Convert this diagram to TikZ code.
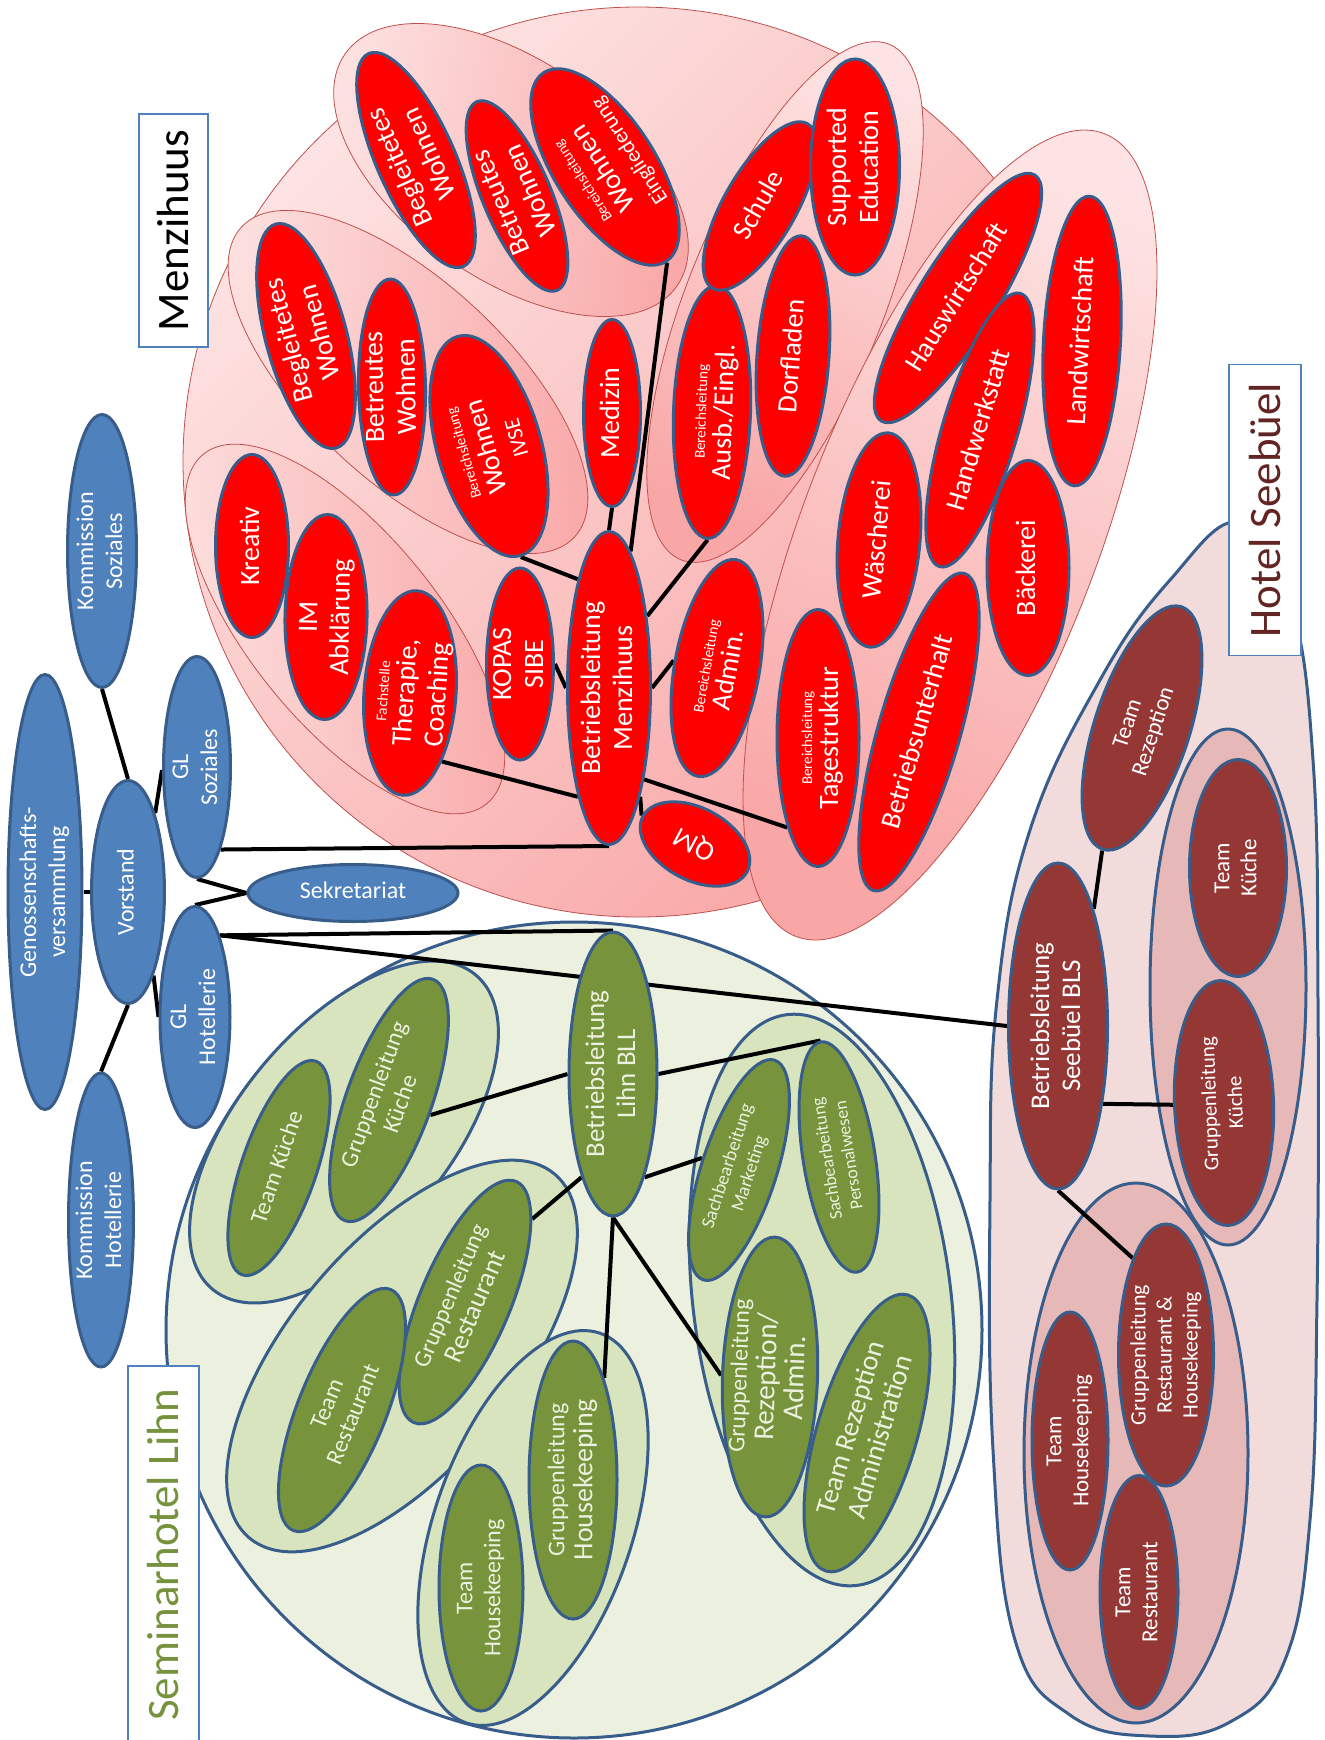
\documentclass[tikz,border=0pt]{standalone}
\usepackage{fontspec}
\setmainfont{Carlito}
\usetikzlibrary{shapes.geometric}
\pgfdeclarelayer{bg}
\pgfdeclarelayer{lines}
\pgfsetlayers{bg,lines,main}
\definecolor{orgBlue}{HTML}{4F81BD}
\definecolor{orgLine}{HTML}{385D8A}
\definecolor{menzRed}{HTML}{FF0000}
\definecolor{lihnGreen}{HTML}{77933C}
\definecolor{seeRed}{HTML}{953735}
\definecolor{menzLight}{HTML}{FDE3E3}
\definecolor{menzDark}{HTML}{F9A6A6}
\definecolor{menzEdge}{HTML}{C0504D}
\definecolor{lihnBg}{HTML}{EBF1DE}
\definecolor{lihnGrp}{HTML}{D7E4BD}
\definecolor{seeBg}{HTML}{F2DCDB}
\definecolor{seeGrp}{HTML}{E6B9B8}
\definecolor{seeText}{HTML}{632523}
\definecolor{lihnText}{HTML}{76923C}
\newcommand{\fsz}[2]{\fontsize{#1}{#2}\selectfont}
\newcommand{\tx}[1]{\smash{\raisebox{-.25em}{\begin{tabular}{@{}c@{}}#1\end{tabular}}}}
\newcommand{\sm}[1]{{\fsz{15}{16}#1}}
\tikzset{
  sz/.style 2 args={minimum width=#1pt, minimum height=#2pt},
  orgnode/.style={ellipse, draw=orgLine, line width=3pt, inner sep=0pt, text=white},
  blue node/.style={orgnode, fill=orgBlue, font=\fsz{24}{29}},
  menz node/.style={orgnode, fill=menzRed, font=\fsz{28}{32}},
  lihn node/.style={orgnode, fill=lihnGreen, text=lihnBg, font=\fsz{24}{28}},
  see node/.style={orgnode, fill=seeRed, font=\fsz{23}{27}},
  menz group/.style={ellipse, draw=menzEdge, line width=.8pt, top color=menzLight, bottom color=menzDark},
  lihn group/.style={ellipse, draw=orgLine, line width=3pt, fill=lihnGrp},
  see group/.style={ellipse, draw=orgLine, line width=3pt, fill=seeGrp},
  conn/.style={line width=4pt},
  site label/.style={draw=orgBlue, line width=1.5pt, fill=white, rotate=90, inner sep=0pt, font=\fsz{45}{50}}
}
\begin{document}
\begin{tikzpicture}[x=1pt, y=-1pt]
\useasboundingbox (0,0) rectangle (1325,1740);

\begin{pgfonlayer}{bg}
% Menzihuus
\node[menz group, minimum size=910pt, shading angle=45] (menzArea) at (638,462) {};
\node[menz group, sz={450}{190}, rotate=-51, shading angle=96] (gA) at (345,629) {};
\node[menz group, sz={455}{200}, rotate=-43, shading angle=88] (gW2) at (408,382) {};
\node[menz group, sz={405}{218}, rotate=-35, shading angle=80] (gW1) at (511,170) {};
\node[menz group, sz={556}{196}, rotate=68, shading angle=-23] (gSchule) at (785,302) {};
\node[menz group, sz={860}{296}, rotate=69, shading angle=-24] (gBetrieb) at (950,535) {};
% Seminarhotel Lihn
\node[circle, draw=orgLine, line width=3pt, fill=lihnBg, minimum size=816pt] (lihnArea) at (574,1330) {};
\node[lihn group, sz={410}{210}, rotate=50] (gKueche) at (344,1132) {};
\node[lihn group, sz={475}{225}, rotate=50] (gRest) at (402,1356) {};
\node[lihn group, sz={412}{198}, rotate=71] (gHouse) at (533,1528) {};
\node[lihn group, sz={575}{258}, rotate=97] (gRezep) at (822,1300) {};
% Hotel Seebuel
\draw[draw=orgLine, line width=3pt, fill=seeBg] plot[smooth cycle, tension=.7] coordinates {
  (1240,522) (1290,600) (1313,760) (1318,1000) (1317,1300) (1310,1520) (1285,1660)
  (1230,1722) (1150,1736) (1070,1715) (1015,1640) (993,1450) (990,1200) (997,1000)
  (1030,830) (1100,680) (1170,580)};
\node[see group, sz={516}{156}, rotate=90] (gSeeKueche) at (1228,987) {};
\node[see group, sz={540}{224}, rotate=90] (gSeeRest) at (1136,1453) {};
\end{pgfonlayer}

% Leitung
\node[blue node, sz={273}{69}, rotate=90] (ks) at (102,551) {\tx{Kommission\\Soziales}};
\node[blue node, sz={221}{67}, rotate=90] (gls) at (197,767) {\tx{GL\\Soziales}};
\node[blue node, sz={435}{74}, rotate=90] (gv) at (45,892) {\tx{Genossenschafts-\\versammlung}};
\node[blue node, sz={223}{73}, rotate=90] (vs) at (128,892) {\tx{Vorstand}};
\node[blue node, sz={210}{57}] (sek) at (353,893) {\tx{Sekretariat}};
\node[blue node, sz={221}{70}, rotate=90] (glh) at (195,1017) {\tx{GL\\Hotellerie}};
\node[blue node, sz={294}{65}, rotate=90] (kh) at (101,1220) {\tx{Kommission\\Hotellerie}};

% Menzihuus
\node[menz node, sz={313}{83}, rotate=90] (blm) at (609,688) {\tx{Betriebsleitung\\Menzihuus}};
\node[menz node, sz={233}{78}, rotate=114] (begw1) at (416,160) {\tx{Begleitetes\\Wohnen}};
\node[menz node, sz={205}{68}, rotate=113] (betw1) at (517,196) {\tx{Betreutes\\Wohnen}};
\node[menz node, sz={225}{100}, rotate=123] (einw) at (605,167) {\tx{\sm{Bereichsleitung}\\[-5pt]Wohnen\\[-2pt]{\fsz{22}{24}Eingliederung}}};
\node[menz node, sz={232}{81}, rotate=105] (begw2) at (306,336) {\tx{Begleitetes\\Wohnen}};
\node[menz node, sz={216}{67}, rotate=91] (betw2) at (392,387) {\tx{Betreutes\\Wohnen}};
\node[menz node, sz={228}{104}, rotate=106] (ivse) at (489,446) {\tx{\sm{Bereichsleitung}\\[-5pt]Wohnen\\[-2pt]{\fsz{22}{24}IVSE}}};
\node[menz node, sz={187}{57}, rotate=90] (med) at (612,413) {\tx{Medizin}};
\node[menz node, sz={253}{77}, rotate=88] (ausb) at (712,412) {\tx{\sm{Bereichsleitung}\\[-6pt]Ausb./Eingl.}};
\node[menz node, sz={190}{72}, rotate=60] (schule) at (760,206) {\tx{Schule}};
\node[menz node, sz={216}{89}, rotate=90] (suped) at (855,167) {\tx{Supported\\Education}};
\node[menz node, sz={241}{72}, rotate=86] (dorf) at (793,356) {\tx{Dorfladen}};
\node[menz node, sz={290}{78}, rotate=58] (haus) at (958,298) {\tx{Hauswirtschaft}};
\node[menz node, sz={290}{77}, rotate=87] (land) at (1082,341) {\tx{Landwirtschaft}};
\node[menz node, sz={285}{75}, rotate=73.5] (hand) at (980,430) {\tx{Handwerkstatt}};
\node[menz node, sz={215}{82}, rotate=85] (wasch) at (879,540) {\tx{Wäscherei}};
\node[menz node, sz={215}{82}, rotate=90] (baeck) at (1028,568) {\tx{Bäckerei}};
\node[menz node, sz={330}{82}, rotate=74] (bunt) at (919,732) {\tx{Betriebsunterhalt}};
\node[menz node, sz={257}{82}, rotate=90] (tag) at (818,738) {\tx{\sm{Bereichsleitung}\\[-6pt]Tagestruktur}};
\node[menz node, sz={220}{85}, rotate=80] (adm) at (717,668) {\tx{\sm{Bereichsleitung}\\[-6pt]Admin.}};
\node[menz node, sz={192}{67}, rotate=90] (kop) at (520,664) {\tx{KOPAS\\SIBE}};
\node[menz node, sz={205}{92}, rotate=86] (ther) at (410,693) {\tx{\sm{Fachstelle}\\[-6pt]Therapie,\\Coaching}};
\node[menz node, sz={205}{82}, rotate=89] (imab) at (326,617) {\tx{IM\\Abklärung}};
\node[menz node, sz={183}{73}, rotate=90] (krea) at (252,546) {\tx{Kreativ}};
\node[menz node, sz={118}{72}, rotate=152] (qm) at (695,844) {\tx{QM}};

% Seminarhotel Lihn
\node[lihn node, sz={284}{88}, rotate=90, font=\fsz{27}{31}] (bll) at (613,1074) {\tx{Betriebsleitung\\Lihn BLL}};
\node[lihn node, sz={257}{85}, rotate=70] (glk) at (389,1100) {\tx{Gruppenleitung\\Küche}};
\node[lihn node, sz={226}{75}, rotate=71] (tk) at (279,1168) {\tx{Team Küche}};
\node[lihn node, sz={262}{90}, rotate=67] (glr) at (465,1302) {\tx{Gruppenleitung\\{\fsz{27}{30}Restaurant}}};
\node[lihn node, sz={260}{88}, rotate=68] (tr) at (342,1410) {\tx{Team\\Restaurant}};
\node[lihn node, sz={278}{88}, rotate=90] (glhk) at (573,1480) {\tx{Gruppenleitung\\{\fsz{28}{30}Housekeeping}}};
\node[lihn node, sz={246}{84}, rotate=90] (thk) at (481,1588) {\tx{Team\\Housekeeping}};
\node[lihn node, sz={231}{75}, rotate=72, font=\fsz{19}{23}] (mkt) at (739,1170) {\tx{Sachbearbeitung\\Marketing}};
\node[lihn node, sz={233}{72}, rotate=99, font=\fsz{18}{22}] (pers) at (839,1157) {\tx{Sachbearbeitung\\Personalwesen}};
\node[lihn node, sz={280}{95}, rotate=88] (glrez) at (770,1377) {\tx{Gruppenleitung\\{\fsz{29}{32}Rezeption/}\\{\fsz{29}{32}Admin.}}};
\node[lihn node, sz={288}{100}, rotate=73.5, font=\fsz{28}{31}] (trez) at (867,1433) {\tx{Team Rezeption\\Administration}};

% Hotel Seebuel
\node[see node, sz={326}{99}, rotate=90, font=\fsz{27}{31}] (bls) at (1058,1026) {\tx{Betriebsleitung\\Seebüel BLS}};
\node[see node, sz={255}{95}, rotate=72] (trs) at (1142,728) {\tx{Team\\Rezeption}};
\node[see node, sz={217}{97}, rotate=90] (tks) at (1238,868) {\tx{Team\\Küche}};
\node[see node, sz={245}{99}, rotate=92, font=\fsz{21}{26}] (glks) at (1224,1103) {\tx{Gruppenleitung\\Küche}};
\node[see node, sz={262}{95}, rotate=90, font=\fsz{22}{26}] (glrhk) at (1166,1355) {\tx{Gruppenleitung\\Restaurant \&\\Housekeeping}};
\node[see node, sz={258}{76}, rotate=90] (thks) at (1070,1441) {\tx{Team\\Housekeeping}};
\node[see node, sz={233}{78}, rotate=90] (trs2) at (1139,1592) {\tx{Team\\Restaurant}};

% Beschriftungen
\node[site label, sz={233}{69}] (menzLabel) at (173.5,230.5) {Menzihuus};
\node[site label, sz={291}{72}, text=seeText] (seeLabel) at (1265,510) {Hotel Seebüel};
\node[site label, sz={378}{71}, text=lihnText] (lihnLabel) at (163.5,1555) {Seminarhotel Lihn};

\begin{pgfonlayer}{lines}
\draw[conn] (ks.west) -- (vs.east);
\draw[conn] (vs.-19) -- (gls.95);
\draw[conn] (vs.north) -- (gv.south);
\draw[conn] (vs.-163) -- (glh.north);
\draw[conn] (vs.west) -- (kh.east);
\draw[conn] (gls.west) -- (sek.west);
\draw[conn] (glh.east) -- (sek.west);
\draw[conn] (gls.-164) -- (blm.west);
\draw[conn] (glh.-17) -- (bll.east);
\draw[conn] (glh.-17) -- (bls.north);
\draw[conn] (blm.east) -- (med.west);
\draw[conn] (blm.-9) -- (einw.west);
\draw[conn] (blm.16) -- (ivse.west);
\draw[conn] (blm.-28) -- (ausb.west);
\draw[conn] (blm.south) -- (adm.north);
\draw[conn] (blm.north) -- (kop.south);
\draw[conn] (blm.164) -- (ther.-151);
\draw[conn] (blm.-159) -- (tag.161);
\draw[conn] (blm.-164) -- (qm.east);
\draw[conn] (bll.south) -- (pers.east);
\draw[conn] (bll.-163) -- (mkt.north);
\draw[conn] (bll.north) -- (glk.south);
\draw[conn] (bll.163) -- (glr.-16);
\draw[conn] (bll.west) -- (glhk.-17);
\draw[conn] (bll.west) -- (glrez.north);
\draw[conn] (bls.-17) -- (trs.west);
\draw[conn] (bls.-150) -- (glks.north);
\draw[conn] (bls.west) -- (glrhk.19);
\end{pgfonlayer}
\end{tikzpicture}
\end{document}
